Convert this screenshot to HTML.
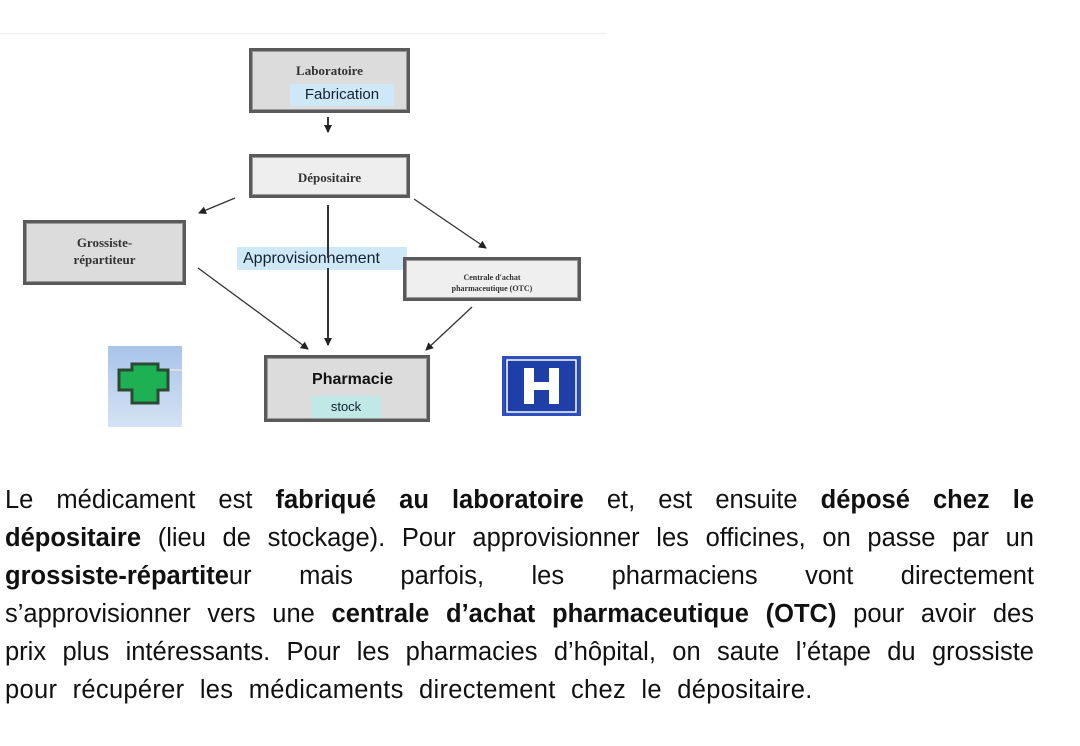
<!DOCTYPE html>
<html><head><meta charset="utf-8"><style>
html,body{margin:0;padding:0;background:#fff;width:1080px;height:746px;overflow:hidden;position:relative}
.a{position:absolute}
.box{position:absolute;box-sizing:border-box;border:3px solid #5a5a5a;background:#dcdcdc;box-shadow:inset 0 0 0 1px #999}
.ser{font-family:"Liberation Serif",serif;font-weight:bold;color:#333;text-align:center}
.sans{font-family:"Liberation Sans",sans-serif}
.txt{position:absolute;left:5px;width:1029px;font-family:"Liberation Sans",sans-serif;font-size:25.5px;color:#111;line-height:38px}
.txt div{white-space:nowrap;text-align:justify;text-align-last:justify;height:38px}
.txt div.last{text-align-last:left;word-spacing:8px;letter-spacing:0.3px}
b{font-weight:bold}
</style></head><body>
<div class="a" style="left:0;top:33px;width:607px;height:1px;background:#eee"></div>

<div class="box" style="left:249px;top:48px;width:161px;height:65px"></div>
<div class="a ser" style="left:249px;top:63px;width:161px;font-size:13px">Laboratoire</div>
<div class="a sans" style="left:290px;top:84px;width:104px;height:22px;background:#cfe8f8;font-size:15px;line-height:22px;color:#123;text-align:center">Fabrication</div>

<div class="box" style="left:249px;top:154px;width:161px;height:44px;background:#eee"></div>
<div class="a ser" style="left:249px;top:170px;width:161px;font-size:13px">Dépositaire</div>

<div class="box" style="left:23px;top:220px;width:163px;height:65px"></div>
<div class="a ser" style="left:23px;top:234px;width:163px;font-size:13px;line-height:17px">Grossiste-<br>répartiteur</div>

<div class="a sans" style="left:237px;top:247px;width:170px;height:23px;background:#cfe8f8;font-size:16px;line-height:24px;color:#123;padding-left:6px;box-sizing:border-box">Approvisionnement</div>

<div class="box" style="left:403px;top:257px;width:178px;height:44px;background:#efefef"></div>
<div class="a ser" style="left:403px;top:272px;width:178px;font-size:8px;line-height:11px">Centrale d'achat<br>pharmaceutique (OTC)</div>

<div class="box" style="left:264px;top:355px;width:166px;height:67px"></div>
<div class="a sans" style="left:280px;top:371px;width:145px;font-size:16px;font-weight:bold;color:#111;text-align:center">Pharmacie</div>
<div class="a sans" style="left:311px;top:396px;width:70px;height:22px;background:#bfe8e6;font-size:13px;line-height:22px;color:#123;text-align:center">stock</div>

<div class="a" style="left:108px;top:346px;width:74px;height:81px;background:linear-gradient(#a9c4ea,#d4e2f4)"></div>
<svg class="a" style="left:108px;top:346px" width="74" height="81">
<line x1="58" y1="24" x2="74" y2="24" stroke="#ddd" stroke-width="2"/>
<path d="M24 18h26v6h10v20h-10v13h-26v-13h-13v-20h13z" fill="#1db154" stroke="#2a4a33" stroke-width="3"/>
</svg>
<div class="a" style="left:502px;top:356px;width:79px;height:60px;background:#1e3fa8;box-sizing:border-box;border:3px solid #2d4fc0"></div>
<svg class="a" style="left:502px;top:356px" width="79" height="60">
<rect x="5" y="4" width="69" height="52" fill="none" stroke="#fff" stroke-width="1.5"/>
<path d="M22 12h10v14h15v-14h10v36h-10v-14h-15v14h-10z" fill="#fff"/>
</svg>

<svg class="a" style="left:0;top:0" width="620" height="440">
<defs><marker id="m" markerWidth="8" markerHeight="8" refX="7" refY="4" orient="auto" markerUnits="userSpaceOnUse"><path d="M0,0L8,4L0,8z" fill="#222"/></marker></defs>
<g stroke="#333" stroke-width="1.3" fill="none" marker-end="url(#m)">
<line x1="328" y1="117" x2="328" y2="132" stroke-width="2"/>
<line x1="235" y1="198" x2="199" y2="213"/>
<line x1="414" y1="199" x2="486" y2="248"/>
<line x1="198" y1="268" x2="308" y2="349"/>
<line x1="472" y1="307" x2="426" y2="350"/>
</g>
<line x1="328" y1="205" x2="328" y2="258" stroke="#333" stroke-width="2"/>
<line x1="328" y1="268" x2="328" y2="345" stroke="#333" stroke-width="2" marker-end="url(#m)"/>
</svg>

<div class="txt" style="top:481px">
<div>Le médicament est <b>fabriqué au laboratoire</b> et, est ensuite <b>déposé chez le</b></div>
<div><b>dépositaire</b> (lieu de stockage). Pour approvisionner les officines, on passe par un</div>
<div><b>grossiste-répartite</b>ur mais parfois, les pharmaciens vont directement</div>
<div>s’approvisionner vers une <b>centrale d’achat pharmaceutique (OTC)</b> pour avoir des</div>
<div>prix plus intéressants. Pour les pharmacies d’hôpital, on saute l’étape du grossiste</div>
<div class="last">pour récupérer les médicaments directement chez le dépositaire.</div>
</div>
</body></html>
